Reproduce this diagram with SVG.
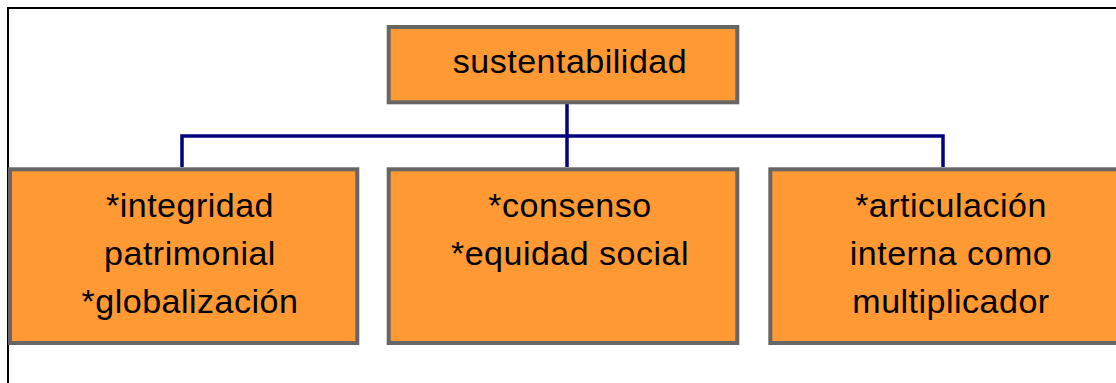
<svg xmlns="http://www.w3.org/2000/svg" width="1116" height="383" viewBox="0 0 1116 383">
<style>
.box{fill:#FF9933;stroke:#666666;stroke-width:4}
.lbl{font-family:"Liberation Sans",Arial,sans-serif;font-size:34px;letter-spacing:0.5px;fill:#000;text-anchor:middle}
.conn{fill:none;stroke:#000080;stroke-width:3.5}
</style>
<rect x="0" y="0" width="1116" height="383" fill="#ffffff"/>
<path d="M8,383 V8 H1116" fill="none" stroke="#000" stroke-width="2"/>
<g id="connectors">
<path class="conn" d="M567,103 V167"/>
<path class="conn" d="M182,167 V136 H943 V167"/>
</g>
<g id="node-sustentabilidad">
<rect class="box" x="388.7" y="27" width="348.6" height="75.3"/>
<text class="lbl" x="570" y="73">sustentabilidad</text>
</g>
<g id="node-integridad">
<rect class="box" x="10" y="169.3" width="347.3" height="173.7"/>
<text class="lbl" x="190" y="216.5">*integridad</text>
<text class="lbl" x="190" y="264.5">patrimonial</text>
<text class="lbl" x="190" y="312.5">*globalización</text>
</g>
<g id="node-consenso">
<rect class="box" x="388.7" y="169.3" width="348.6" height="173.7"/>
<text class="lbl" x="570" y="216.5">*consenso</text>
<text class="lbl" x="570" y="265">*equidad social</text>
</g>
<g id="node-articulacion">
<rect class="box" x="770.3" y="169.3" width="348.6" height="173.7"/>
<text class="lbl" x="951" y="216.5">*articulación</text>
<text class="lbl" x="951" y="264.5">interna como</text>
<text class="lbl" x="951" y="312.5">multiplicador</text>
</g>
</svg>
